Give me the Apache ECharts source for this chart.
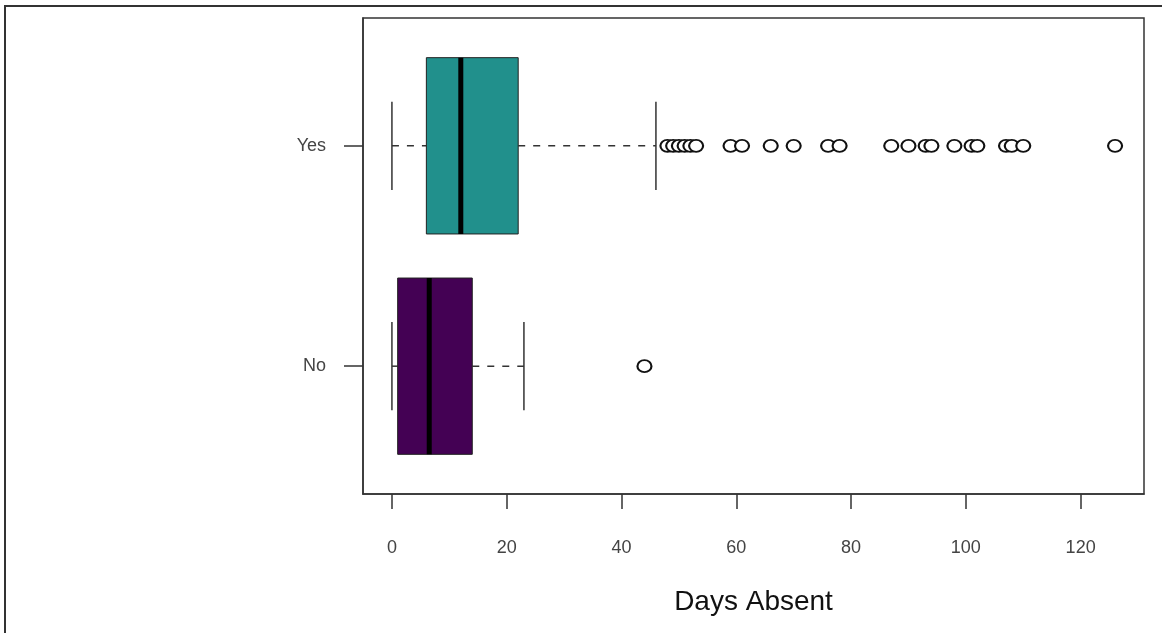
<!DOCTYPE html>
<html>
<head>
  <meta charset="utf-8">
  <style>
    html, body { margin: 0; padding: 0; background: #fff; }
    #main { width: 1162px; height: 633px; }
  </style>
</head>
<body>
  <div id="main"></div>
  <script src="https://cdn.jsdelivr.net/npm/echarts@6/dist/echarts.min.js"></script>
  <script>
    // groups drawn bottom to top
    var groups = ['No', 'Yes'];
    var groupPos = [1, 2];
    var whiskerLow = [0, 0];
    var q1 = [1, 6];
    var median = [6.5, 12];
    var q3 = [14, 22];
    var whiskerHigh = [23, 46];
    var outliersNo = [44];
    var outliersYes = [48, 49, 50, 51, 52, 53, 59, 61, 66, 70, 76, 78, 87, 90, 93, 94, 98, 101, 102, 107, 108, 110, 126];
    var xTicks = [0, 20, 40, 60, 80, 100, 120];

    var boxColors = ['#440154', '#21908C'];

    var boxData = groups.map(function (g, i) {
      return [groupPos[i], whiskerLow[i], q1[i], median[i], q3[i], whiskerHigh[i], i];
    });
    var outlierData = outliersNo.map(function (v) { return [v, groupPos[0]]; })
      .concat(outliersYes.map(function (v) { return [v, groupPos[1]]; }));

    function renderBox(params, api) {
      var pos = api.value(0);
      var lo = api.coord([api.value(1), pos]);
      var a = api.coord([api.value(2), pos]);
      var m = api.coord([api.value(3), pos]);
      var b = api.coord([api.value(4), pos]);
      var hi = api.coord([api.value(5), pos]);
      var yc = lo[1];
      var half = api.size([0, 0.4])[1];
      var staple = api.size([0, 0.2])[1];
      var dashStyle = { stroke: '#333', lineWidth: 1.5, lineDash: [7, 8] };
      var solid = { stroke: '#333', lineWidth: 1.5 };
      return {
        type: 'group',
        children: [
          { type: 'line', shape: { x1: lo[0], y1: yc, x2: a[0], y2: yc }, style: dashStyle },
          { type: 'line', shape: { x1: b[0], y1: yc, x2: hi[0], y2: yc }, style: dashStyle },
          { type: 'line', shape: { x1: lo[0], y1: yc - staple, x2: lo[0], y2: yc + staple }, style: solid },
          { type: 'line', shape: { x1: hi[0], y1: yc - staple, x2: hi[0], y2: yc + staple }, style: solid },
          {
            type: 'rect',
            shape: { x: a[0], y: yc - half, width: b[0] - a[0], height: half * 2 },
            style: { fill: boxColors[api.value(6)], stroke: '#222', lineWidth: 1 }
          },
          { type: 'line', shape: { x1: m[0], y1: yc - half, x2: m[0], y2: yc + half }, style: { stroke: '#000', lineWidth: 5 } }
        ]
      };
    }

    var chart = echarts.init(document.getElementById('main'));
    chart.setOption({
      animation: false,
      backgroundColor: '#fff',
      graphic: [{
        type: 'polyline',
        shape: { points: [[5, 700], [5, 6], [1200, 6]] },
        style: { stroke: '#333', lineWidth: 2, fill: null }
      }],
      grid: {
        left: 363, right: 18, top: 18, bottom: 139,
        show: true, borderColor: '#333', borderWidth: 1.5
      },
      xAxis: {
        type: 'value',
        min: -5.04,
        max: 131.04,
        name: 'Days Absent',
        nameLocation: 'middle',
        nameGap: 94,
        nameTextStyle: { fontFamily: 'Liberation Sans', fontSize: 28, color: '#111' },
        axisLine: { show: true, onZero: false, lineStyle: { color: '#333', width: 1.5 } },
        axisTick: { show: true, inside: false, length: 15, customValues: xTicks, lineStyle: { color: '#333', width: 1.5 } },
        axisLabel: { customValues: xTicks, margin: 45, fontFamily: 'Liberation Sans', fontSize: 18, color: '#444' },
        splitLine: { show: false }
      },
      yAxis: {
        type: 'value',
        min: 0.42,
        max: 2.58,
        axisLine: { show: true, onZero: false, lineStyle: { color: '#333', width: 1.5 } },
        axisTick: { show: true, inside: false, length: 19, customValues: groupPos, lineStyle: { color: '#333', width: 1.5 } },
        axisLabel: {
          customValues: groupPos,
          margin: 37,
          fontFamily: 'Liberation Sans', fontSize: 18, color: '#444',
          formatter: function (v) { return groups[groupPos.indexOf(v)]; }
        },
        splitLine: { show: false }
      },
      series: [
        {
          type: 'custom',
          renderItem: renderBox,
          encode: { x: [1, 2, 3, 4, 5], y: 0 },
          data: boxData,
          silent: true
        },
        {
          type: 'scatter',
          symbol: 'emptyCircle',
          symbolSize: [14, 12],
          itemStyle: { color: '#111', borderWidth: 2.2, opacity: 1 },
          data: outlierData,
          silent: true
        }
      ]
    });
  </script>
</body>
</html>
